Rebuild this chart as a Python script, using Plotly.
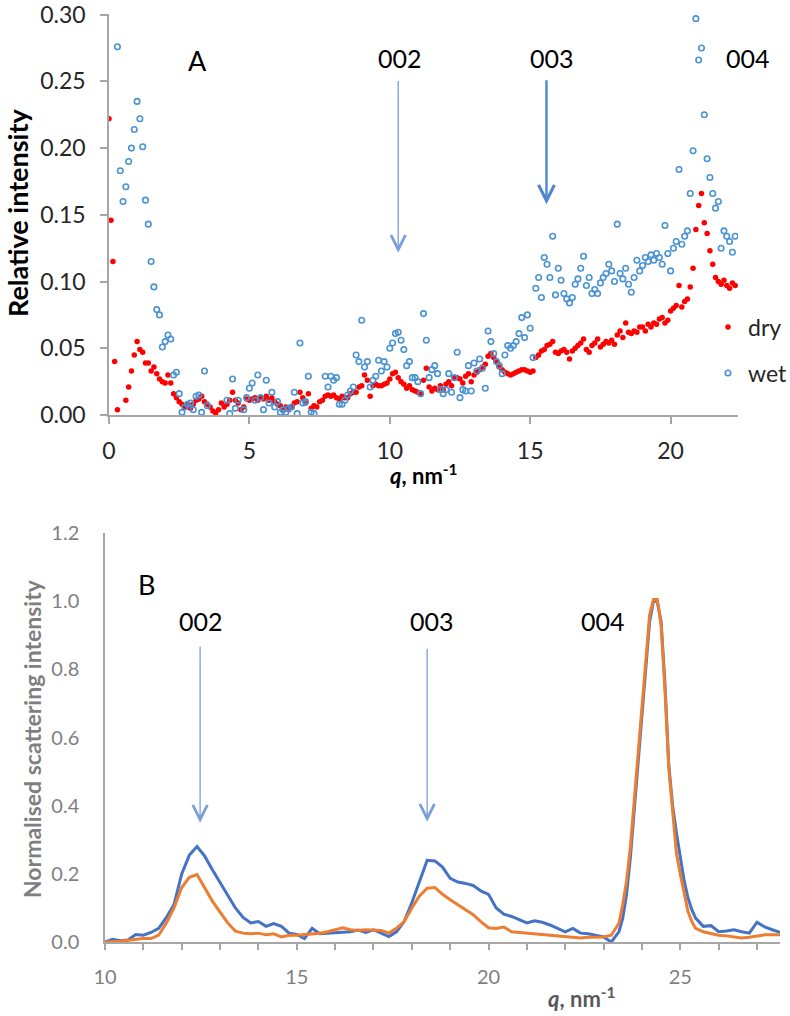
import plotly.graph_objects as go

# ---------------- Panel A data ----------------
q_dry_start = [0.0, 0.07, 0.14, 0.2]
dry_start = [0.222, 0.146, 0.115, 0.040]

q_a = [0.3, 0.4, 0.5, 0.6, 0.7, 0.8, 0.9,
       1.0, 1.1, 1.2, 1.3, 1.4, 1.5, 1.6, 1.7, 1.8, 1.9,
       2.0, 2.1, 2.2, 2.3, 2.4, 2.5, 2.6, 2.7, 2.8, 2.9,
       3.0, 3.1, 3.2, 3.3, 3.4, 3.5, 3.6, 3.7, 3.8, 3.9,
       4.0, 4.1, 4.2, 4.3, 4.4, 4.5, 4.6, 4.7, 4.8, 4.9,
       5.0, 5.1, 5.2, 5.3, 5.4, 5.5, 5.6, 5.7, 5.8, 5.9,
       6.0, 6.1, 6.2, 6.3, 6.4, 6.5, 6.6, 6.7, 6.8, 6.9,
       7.0, 7.1, 7.2, 7.3, 7.4, 7.5, 7.6, 7.7, 7.8, 7.9,
       8.0, 8.1, 8.2, 8.3, 8.4, 8.5, 8.6, 8.7, 8.8, 8.9,
       9.0, 9.1, 9.2, 9.3, 9.4, 9.5, 9.6, 9.7, 9.8, 9.9,
       10.0, 10.1, 10.2, 10.3, 10.4, 10.5, 10.6, 10.7, 10.8, 10.9,
       11.0, 11.1, 11.2, 11.3, 11.4, 11.5, 11.6, 11.7, 11.8, 11.9,
       12.0, 12.1, 12.2, 12.3, 12.4, 12.5, 12.6, 12.7, 12.8, 12.9,
       13.0, 13.1, 13.2, 13.3, 13.4, 13.5, 13.6, 13.7, 13.8, 13.9,
       14.0, 14.1, 14.2, 14.3, 14.4, 14.5, 14.6, 14.7, 14.8, 14.9,
       15.0, 15.1, 15.2, 15.3, 15.4, 15.5, 15.6, 15.7, 15.8, 15.9,
       16.0, 16.1, 16.2, 16.3, 16.4, 16.5, 16.6, 16.7, 16.8, 16.9,
       17.0, 17.1, 17.2, 17.3, 17.4, 17.5, 17.6, 17.7, 17.8, 17.9,
       18.0, 18.1, 18.2, 18.3, 18.4, 18.5, 18.6, 18.7, 18.8, 18.9,
       19.0, 19.1, 19.2, 19.3, 19.4, 19.5, 19.6, 19.7, 19.8, 19.9,
       20.0, 20.1, 20.2, 20.3, 20.4, 20.5, 20.6, 20.7, 20.8, 20.9,
       21.0, 21.1, 21.2, 21.3, 21.4, 21.5, 21.6, 21.7, 21.8, 21.9,
       22.0, 22.1, 22.2, 22.3]

dry = [0.004, None, None, 0.011, 0.021, 0.033, 0.045,
       0.055, 0.049, 0.047, 0.039, 0.039, 0.033, 0.036, 0.031, 0.027, 0.025,
       0.024, 0.030, 0.024, 0.016, 0.013, 0.010, 0.008, 0.006, 0.008, 0.005,
       0.008, 0.011, 0.012, 0.014, 0.010, 0.008, 0.006, 0.003, 0.0015, 0.004,
       0.009, 0.006, 0.008, 0.011, 0.017, 0.011, 0.009, 0.004, 0.006, 0.012,
       0.011, 0.012, 0.013, 0.011, 0.013, 0.012, 0.014, 0.011, 0.013, 0.010,
       0.008, 0.007, 0.004, 0.006, 0.004, 0.006, 0.009, 0.010, 0.017, 0.013,
       0.009, 0.016, 0.005, 0.007, 0.006, 0.010, 0.011, 0.014, 0.015, 0.014,
       0.015, 0.013, 0.012, 0.014, 0.013, 0.013, 0.016, 0.017, 0.017, 0.021,
       0.022, 0.030, 0.026, 0.014, 0.022, 0.023, 0.022, 0.022, 0.023, 0.024,
       0.027, 0.031, 0.032, 0.028, 0.025, 0.023, 0.020, 0.022, 0.019, 0.018,
       0.017, 0.016, 0.026, 0.035, 0.021, 0.018, 0.020, 0.019, 0.022, 0.019,
       0.023, 0.025, 0.022, 0.028, 0.028, 0.027, 0.024, 0.029, 0.031, 0.025,
       0.030, 0.032, 0.034, 0.036, 0.038, 0.044, 0.046, 0.043, 0.040, 0.036,
       0.034, 0.032, 0.031, 0.030, 0.031, 0.032, 0.033, 0.034, 0.034, 0.033,
       0.032, 0.033, 0.043, 0.045, 0.048, 0.049, 0.052, 0.053, 0.055, 0.047,
       0.046, 0.048, 0.049, 0.047, 0.042, 0.048, 0.050, 0.052, 0.054, 0.057,
       0.049, 0.047, 0.052, 0.054, 0.057, 0.051, 0.053, 0.055, 0.054, 0.056,
       0.053, 0.060, 0.063, 0.058, 0.069, 0.062, 0.061, 0.063, 0.062, 0.066,
       0.066, 0.063, 0.068, 0.066, 0.069, 0.068, 0.072, 0.073, 0.069, 0.071,
       0.078, 0.080, 0.082, 0.097, 0.081, 0.085, 0.087, 0.096, 0.110, 0.139,
       0.157, 0.166, 0.144, 0.136, 0.123, 0.113, 0.103, 0.100, 0.098, 0.101,
       0.097, 0.095, 0.099, 0.097]

wet = [0.276, 0.183, 0.160, 0.171, 0.190, 0.200, 0.214,
       0.235, 0.222, 0.201, 0.161, 0.143, 0.115, 0.096, 0.079, 0.075, 0.051,
       0.055, 0.060, 0.057, 0.030, 0.032, 0.016, 0.002, 0.006, 0.008, 0.009,
       0.004, 0.014, 0.015, 0.002, 0.033, 0.007, None, None, None, None,
       None, None, 0.011, 0.001, 0.027, 0.005, 0.011, None, 0.004, 0.013,
       0.020, 0.024, 0.011, 0.030, 0.013, 0.004, 0.026, 0.009, 0.017, 0.006,
       0.010, 0.002, 0.004, 0.002, 0.005, 0.006, 0.017, 0.001, 0.054, 0.009,
       0.010, 0.029, 0.002, 0.001, None, None, None, 0.029, 0.021, 0.029,
       0.026, 0.028, 0.008, 0.008, 0.011, 0.015, 0.018, 0.021, 0.045, 0.040,
       0.071, 0.036, 0.040, 0.021, 0.026, 0.029, 0.041, 0.033, 0.040, 0.036,
       0.050, 0.054, 0.061, 0.062, 0.056, 0.049, 0.037, 0.040, 0.028, 0.028,
       0.025, 0.016, 0.076, 0.056, 0.028, 0.034, 0.037, 0.031, 0.019, 0.016,
       0.019, 0.031, 0.017, 0.028, 0.047, 0.013, 0.019, 0.018, 0.037, 0.018,
       0.039, 0.033, 0.042, 0.035, 0.020, 0.063, 0.055, 0.046, 0.040, 0.037,
       0.031, 0.045, 0.052, 0.050, 0.052, 0.055, 0.061, 0.073, 0.058, 0.075,
       0.065, 0.043, 0.095, 0.103, 0.088, 0.118, 0.113, 0.103, 0.134, 0.090,
       0.110, 0.101, 0.091, 0.087, 0.084, 0.088, 0.098, 0.102, 0.110, 0.119,
       0.097, 0.103, 0.091, 0.094, 0.091, 0.099, 0.103, 0.106, 0.113, 0.108,
       0.100, 0.143, 0.106, 0.102, 0.110, 0.098, 0.092, 0.103, 0.116, 0.108,
       0.112, 0.118, 0.115, 0.120, 0.116, 0.121, 0.118, 0.113, 0.142, 0.121,
       0.108, 0.125, 0.130, 0.184, 0.128, 0.134, 0.138, 0.166, 0.198, 0.297,
       0.266, 0.275, 0.225, 0.192, 0.178, 0.166, 0.155, 0.160, 0.125, 0.138,
       0.134, 0.130, 0.122, 0.134]

# ---------------- Panel B data ----------------
q_b = [10.0, 10.2, 10.4, 10.6, 10.8, 11.0, 11.2, 11.4, 11.6, 11.8,
       12.0, 12.2, 12.4, 12.6, 12.8, 13.0, 13.2, 13.4, 13.6, 13.8,
       14.0, 14.2, 14.4, 14.6, 14.8, 15.0, 15.2, 15.4, 15.6, 15.8,
       16.0, 16.2, 16.4, 16.6, 16.8, 17.0, 17.2, 17.4, 17.6, 17.8,
       18.0, 18.2, 18.4, 18.6, 18.8, 19.0, 19.2, 19.4, 19.6, 19.8,
       20.0, 20.2, 20.4, 20.6, 20.8, 21.0, 21.2, 21.4, 21.6, 21.8,
       22.0, 22.2, 22.4, 22.6, 22.8, 23.0, 23.2, 23.4,
       23.5, 23.6, 23.7, 23.8, 23.9, 24.0, 24.1, 24.2, 24.3, 24.4,
       24.5, 24.6, 24.7, 24.8, 24.9, 25.0, 25.1, 25.2, 25.3, 25.4,
       25.6, 25.8, 26.0, 26.2, 26.4, 26.6, 26.8, 27.0, 27.2, 27.4, 27.6]

blue_b = [0.000, 0.008, 0.004, 0.006, 0.022, 0.020, 0.028, 0.040, 0.072, 0.110,
          0.200, 0.255, 0.280, 0.252, 0.212, 0.174, 0.135, 0.100, 0.072, 0.056,
          0.060, 0.046, 0.054, 0.046, 0.026, 0.022, 0.010, 0.040, 0.024, 0.026,
          0.026, 0.030, 0.030, 0.035, 0.028, 0.036, 0.026, 0.016, 0.030, 0.060,
          0.115, 0.180, 0.240, 0.238, 0.220, 0.187, 0.176, 0.172, 0.166, 0.150,
          0.140, 0.100, 0.082, 0.075, 0.066, 0.056, 0.062, 0.058, 0.050, 0.040,
          0.030, 0.040, 0.026, 0.024, 0.020, 0.015, 0.000, 0.030,
          0.070, 0.140, 0.250, 0.390, 0.520, 0.660, 0.820, 0.940, 1.000, 1.000,
          0.940, 0.760, 0.520, 0.400, 0.320, 0.250, 0.180, 0.130, 0.095, 0.070,
          0.046, 0.048, 0.030, 0.032, 0.036, 0.030, 0.026, 0.058, 0.044, 0.036, 0.028]

orange_b = [0.000, 0.000, 0.002, 0.005, 0.008, 0.010, 0.010, 0.020, 0.056, 0.100,
            0.160, 0.190, 0.198, 0.158, 0.120, 0.088, 0.056, 0.032, 0.026, 0.024,
            0.026, 0.021, 0.024, 0.015, 0.020, 0.020, 0.022, 0.022, 0.026, 0.030,
            0.036, 0.042, 0.036, 0.034, 0.036, 0.034, 0.034, 0.026, 0.040, 0.060,
            0.100, 0.135, 0.158, 0.160, 0.140, 0.124, 0.110, 0.094, 0.080, 0.060,
            0.042, 0.040, 0.044, 0.030, 0.028, 0.026, 0.022, 0.022, 0.020, 0.018,
            0.016, 0.012, 0.012, 0.014, 0.015, 0.015, 0.020, 0.055,
            0.110, 0.180, 0.280, 0.420, 0.560, 0.690, 0.840, 0.960, 1.005, 1.005,
            0.930, 0.740, 0.510, 0.380, 0.260, 0.200, 0.140, 0.090, 0.060, 0.040,
            0.030, 0.025, 0.020, 0.018, 0.015, 0.012, 0.014, 0.018, 0.021, 0.021, 0.021]

# tick labels
ticks_a_x = [0, 5, 10, 15, 20]
ticks_a_y = [0.00, 0.05, 0.10, 0.15, 0.20, 0.25, 0.30]
ticks_b_x = [10, 15, 20, 25]
ticks_b_y = [0.0, 0.2, 0.4, 0.6, 0.8, 1.0, 1.2]

# peak labels / arrow positions (data units)
peaks_a = [("002", 10.3, 0.2515, 0.1216), ("003", 15.58, 0.252, 0.158)]
peaks_b = [("002", 12.48, 0.871, 0.350), ("003", 18.40, 0.865, 0.353)]

W, H = 790, 1016
FONT = "Lato"


def px(x):
    return x / W


def py(y):
    return 1 - y / H


fig = go.Figure()

fig.add_trace(go.Scatter(
    x=q_dry_start + q_a, y=dry_start + dry, mode="markers", name="dry",
    marker=dict(color="#ff0000", size=5.5, symbol="circle"),
    xaxis="x", yaxis="y", legend="legend"))
fig.add_trace(go.Scatter(
    x=q_a, y=wet, mode="markers", name="wet",
    marker=dict(color="#4a93d3", size=5.5, symbol="circle-open",
                line=dict(width=1.6)),
    xaxis="x", yaxis="y", legend="legend2"))

fig.add_trace(go.Scatter(
    x=q_b, y=blue_b, mode="lines", showlegend=False,
    line=dict(color="#4472c4", width=3), xaxis="x2", yaxis="y2"))
fig.add_trace(go.Scatter(
    x=q_b, y=orange_b, mode="lines", showlegend=False,
    line=dict(color="#ed7d31", width=3), xaxis="x2", yaxis="y2"))

axis_gray = "#a6a6a6"
dark = "#262626"
gray_txt = "#7f7f7f"


def label(text, x, y, size, color="black", angle=0):
    return dict(text=text, x=px(x), y=py(y), xref="paper", yref="paper",
                xanchor="center", yanchor="middle", showarrow=False, textangle=angle,
                font=dict(family=FONT, size=size, color=color))


annotations = []
# Panel A texts
annotations.append(label("A", 197, 60, 27))
for lab, xc in (("002", 400), ("003", 552), ("004", 748)):
    annotations.append(label(lab, xc, 58, 25))
# Panel A arrows
annotations.append(dict(x=peaks_a[0][1], y=peaks_a[0][3], ax=peaks_a[0][1], ay=peaks_a[0][2],
                        xref="x", yref="y", axref="x", ayref="y", text="", showarrow=True,
                        arrowhead=5, arrowsize=2.2, arrowwidth=1.3, arrowcolor="#7a9ed8"))
annotations.append(dict(x=peaks_a[1][1], y=peaks_a[1][3], ax=peaks_a[1][1], ay=peaks_a[1][2],
                        xref="x", yref="y", axref="x", ayref="y", text="", showarrow=True,
                        arrowhead=5, arrowsize=1.3, arrowwidth=2.4, arrowcolor="#4f87cf"))
# Panel A axis titles
annotations.append(label("<b>Relative intensity</b>", 18, 213, 27, angle=-90))
annotations.append(label("<b><i>q</i>, nm<sup>-1</sup></b>", 423, 474, 22))

# Panel B texts
annotations.append(label("B", 146, 584, 27))
for lab, xc in (("002", 201), ("003", 432), ("004", 603)):
    annotations.append(label(lab, xc, 621, 25))
for lab, q, y0, y1 in peaks_b:
    annotations.append(dict(x=q, y=y1, ax=q, ay=y0, xref="x2", yref="y2", axref="x2", ayref="y2",
                            text="", showarrow=True, arrowhead=5, arrowsize=2.2, arrowwidth=1.3,
                            arrowcolor="#7a9ed8"))
annotations.append(label("<b>Normalised scattering intensity</b>", 32, 739, 23,
                         color=gray_txt, angle=-90))
annotations.append(label("<b><i>q</i>, nm<sup>-1</sup></b>", 581, 997, 22, color="#595959"))

fig.update_layout(
    width=W, height=H, margin=dict(l=0, r=0, t=0, b=0, autoexpand=False),
    paper_bgcolor="white", plot_bgcolor="white",
    font=dict(family=FONT, color=dark),
    xaxis=dict(domain=[px(109), px(738)], range=[0, 22.4], anchor="y", automargin=False,
               showline=True, linecolor=axis_gray, linewidth=1.5, mirror=False,
               ticks="outside", ticklen=7, tickwidth=1.5, tickcolor=axis_gray,
               tickvals=ticks_a_x, showgrid=False, zeroline=False, ticklabeloverflow="allow",
               tickfont=dict(family=FONT, size=23, color=dark), ticklabelstandoff=8),
    yaxis=dict(domain=[py(415), py(14)], range=[0, 0.3005], anchor="x", automargin=False,
               showline=True, linecolor=axis_gray, linewidth=1.5,
               ticks="outside", ticklen=7, tickwidth=1.5, tickcolor=axis_gray,
               tickvals=ticks_a_y, tickformat=".2f", showgrid=False, zeroline=False,
               ticklabeloverflow="allow",
               tickfont=dict(family=FONT, size=23, color=dark), ticklabelstandoff=10),
    xaxis2=dict(domain=[px(105), px(780)], range=[10, 27.6], anchor="y2", automargin=False,
                showline=True, linecolor=axis_gray, linewidth=1.5,
                ticks="outside", ticklen=6, tickwidth=1.5, tickcolor=axis_gray,
                tickvals=ticks_b_x, showgrid=False, zeroline=False, ticklabeloverflow="allow",
                minor=dict(ticks="outside", dtick=1, ticklen=6, tickwidth=1.5,
                           tickcolor=axis_gray, showgrid=False),
                tickfont=dict(family=FONT, size=20, color=gray_txt), ticklabelstandoff=10),
    yaxis2=dict(domain=[py(942), py(533)], range=[0, 1.2005], anchor="x2", automargin=False,
                showline=True, linecolor=axis_gray, linewidth=1.5,
                ticks="", tickvals=ticks_b_y, tickformat=".1f", showgrid=False,
                zeroline=False, tickfont=dict(family=FONT, size=20, color=gray_txt),
                ticklabeloverflow="allow", ticklabelstandoff=20),
    legend=dict(x=px(708), y=py(327), xanchor="left", yanchor="middle",
                bgcolor="rgba(0,0,0,0)", font=dict(family=FONT, size=23, color=dark)),
    legend2=dict(x=px(708), y=py(373), xanchor="left", yanchor="middle",
                 bgcolor="rgba(0,0,0,0)", font=dict(family=FONT, size=23, color=dark)),
    annotations=annotations,
    showlegend=True,
)

fig.write_html("out.html", config={"displayModeBar": False},
               post_script="document.body.style.margin='0';document.body.style.overflow='hidden';")
